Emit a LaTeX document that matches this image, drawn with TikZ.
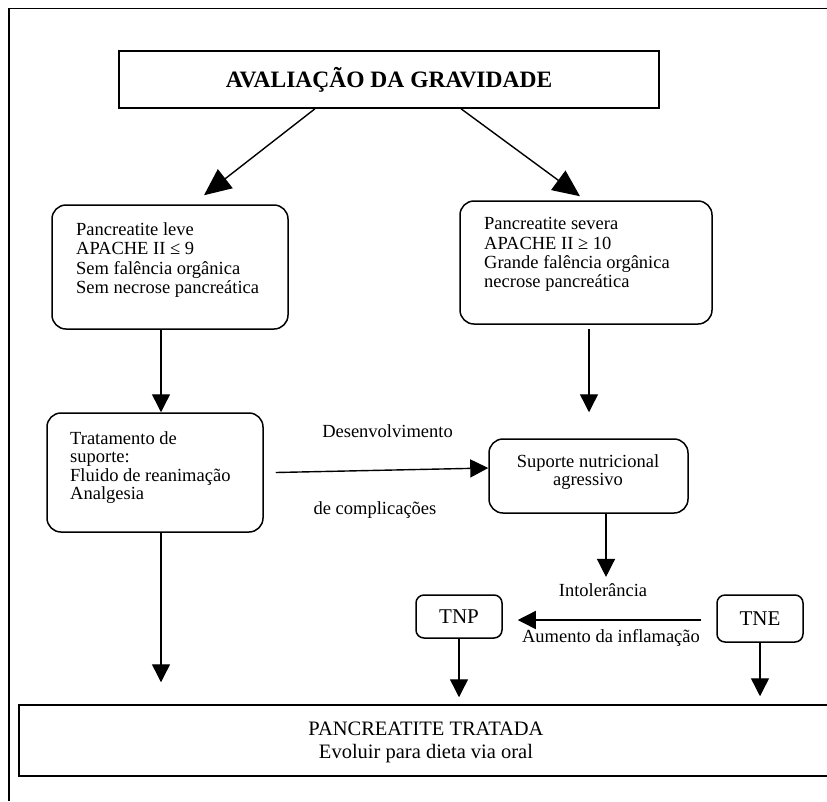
\documentclass[tikz,border=0pt]{standalone}
\usepackage{fontspec}
\setmainfont{Liberation Serif}
\usetikzlibrary{arrows.meta,calc}
\begin{document}
\begin{tikzpicture}[x=1pt,y=-1pt,
  box/.style={draw,line width=1.5pt,inner sep=0pt},
  rbox/.style={box,rounded corners=14pt},
  sbox/.style={box,rounded corners=8pt},
  txt/.style={font=\fontsize{18.5}{19.3}\selectfont,inner sep=0pt,align=left},
  ctxt/.style={font=\fontsize{18.5}{18}\selectfont,inner sep=0pt,align=center},
  arr/.style={line width=1.4pt,-{Triangle[length=18pt,width=18pt]}},
  bigarr/.style={line width=1.4pt,-{Triangle[length=27pt,width=24pt]}},
]
\useasboundingbox (0,0) rectangle (827,801);
\clip (0,0) rectangle (827,801);
% frame
\draw[line width=1.4pt] (9,801) -- (9,8.5) -- (827,8.5);

% boxes
\node[box,minimum width=540pt,minimum height=57pt,font=\bfseries\fontsize{23.5}{24}\selectfont] (top) at (389,79.5) {AVALIAÇÃO DA GRAVIDADE};
\node[rbox,minimum width=236pt,minimum height=124pt] (leve) at (170,267) {};
\node[rbox,minimum width=252pt,minimum height=123pt] (severa) at (586,262.5) {};
\node[rbox,minimum width=216pt,minimum height=119pt] (trat) at (155,472.5) {};
\node[rbox,minimum width=199pt,minimum height=74pt] (supp) at (588.5,476) {};
\node[sbox,minimum width=86pt,minimum height=43pt,font=\fontsize{21}{22}\selectfont] (tnp) at (459,616.5) {TNP};
\node[sbox,minimum width=86pt,minimum height=47pt,font=\fontsize{21}{22}\selectfont] (tne) at (760,618.5) {TNE};
\node[box,minimum width=826pt,minimum height=71pt] (final) at (432,740.5) {};

% texts
\node[txt,anchor=north west] (leveT) at (76,222.4) {Pancreatite leve\\APACHE II ≤ 9\\Sem falência orgânica\\Sem necrose pancreática};
\node[txt,anchor=north west] (severaT) at (484,217.4) {Pancreatite severa\\APACHE II ≥ 10\\Grande falência orgânica\\necrose pancreática};
\node[txt,anchor=north west,font=\fontsize{18.5}{18.5}\selectfont] (tratT) at (70,431.4) {Tratamento de\\suporte:\\Fluido de reanimação\\Analgesia};
\node[ctxt,anchor=north] (suppT) at (588,454.4) {Suporte nutricional\\agressivo};
\node[ctxt,font=\fontsize{20.5}{23}\selectfont] (finalT) at (426,742) {PANCREATITE TRATADA\\Evoluir para dieta via oral};

% labels
\node[ctxt,anchor=base] (desen) at (387.5,437) {Desenvolvimento};
\node[ctxt,anchor=base] (compl) at (375,514) {de complicações};
\node[ctxt,anchor=base] (intol) at (603,596) {Intolerância};
\node[ctxt,anchor=base] (aum) at (611,642) {Aumento da inflamação};

% connectors
\draw[bigarr] ([xshift=-74pt]top.south) -- ([xshift=34pt,yshift=9pt]leve.north);
\draw[bigarr] ([xshift=72pt]top.south) -- ([xshift=-6pt,yshift=4pt]severa.north);
\draw[arr] ([xshift=-9pt]leve.south) -- ([xshift=6pt]trat.north);
\draw[arr] ([xshift=3pt,yshift=-4pt]severa.south) -- ([xshift=0.5pt,yshift=26pt]supp.north);
\draw[arr] ([xshift=12pt]trat.east) -- ([yshift=8pt]supp.west);
\draw[arr] ([xshift=17.5pt]supp.south) -- ($(intol.north)+(3,-6)$);
\draw[arr] ($(tne.west)+(-15,1.5)$) -- ($(tnp.east)+(15,3.5)$);
\draw[arr] (tnp.south) -- ($(tnp.south |- final.north)+(0,-7)$);
\draw[arr] (tne.south) -- ($(tne.south |- final.north)+(0,-8)$);
\coordinate (t1) at ([xshift=6pt]trat.south);
\draw[arr] (t1) -- ($(t1 |- final.north)+(0,-22)$);
\end{tikzpicture}
\end{document}
